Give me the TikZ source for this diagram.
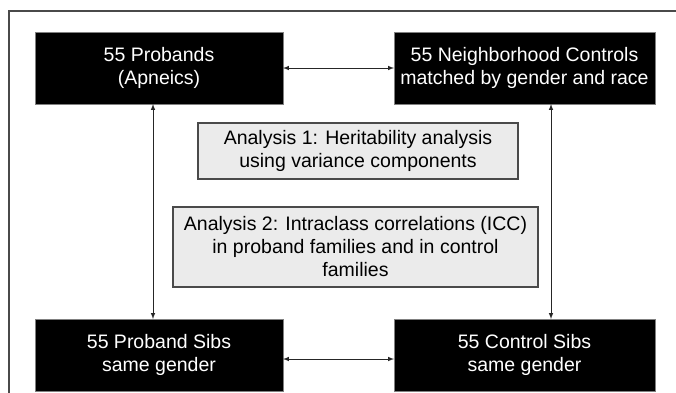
\documentclass[tikz,border=0pt]{standalone}
\usepackage{fontspec}
\setmainfont{Liberation Sans}
\usepackage{tikz}
\usetikzlibrary{arrows}
\usepackage{xcolor}
\definecolor{boxgray}{HTML}{EBEBEB}
\definecolor{edgegray}{HTML}{4A4A4A}

\tikzset{
    group/.style={fill=black, draw=gray, text=white, align=center, inner sep=0pt, outer sep=0pt,
        minimum height=72pt, font=\fontsize{19.5}{23}\selectfont},
    analysis/.style={fill=boxgray, draw=edgegray, line width=1.2pt, align=center, inner sep=0pt,
        outer sep=0pt, font=\fontsize{19.5}{23}\selectfont},
    link/.style={latex-latex, line width=1pt, draw=black!85}
}

\begin{document}
\begin{tikzpicture}[x=1pt, y=-1pt]
        \useasboundingbox (0, 0) rectangle (676, 392);
        % Frame
        \draw [edgegray, line width=1.3pt] (9, 400) -- (9, 11) -- (680, 11);
        % Groups
        \node [group, minimum width=248pt] (pro) at (159, 68) {55 Probands\\(Apneics)};
        \node [group, minimum width=261pt] (con) at (524.5, 68) {55 Neighborhood Controls\\matched by gender and race};
        \node [group, minimum width=248pt] (prosib) at (159, 355) {55 Proband Sibs\\same gender};
        \node [group, minimum width=261pt] (consib) at (524.5, 355) {55 Control Sibs\\same gender};
        % Analyses
        \node [analysis, minimum width=320pt, minimum height=56pt] (an1) at (358, 151) {Analysis 1: Heritability analysis\\using variance components};
        \node [analysis, minimum width=365pt, minimum height=80pt] (an2) at (355.5, 247) {Analysis 2: Intraclass correlations (ICC)\\in proband families and in control\\families};
        % Arrows
        \draw [link] (pro.east) -- (con.west);
        \draw [link] ([yshift=-4pt]prosib.east) -- ([yshift=-4pt]consib.west);
        \draw [link] ([xshift=-6pt]pro.south) -- ([xshift=-6pt]prosib.north);
        \draw [link] ([xshift=26.5pt]con.south) -- ([xshift=26.5pt]consib.north);
    \end{tikzpicture}
\end{document}
